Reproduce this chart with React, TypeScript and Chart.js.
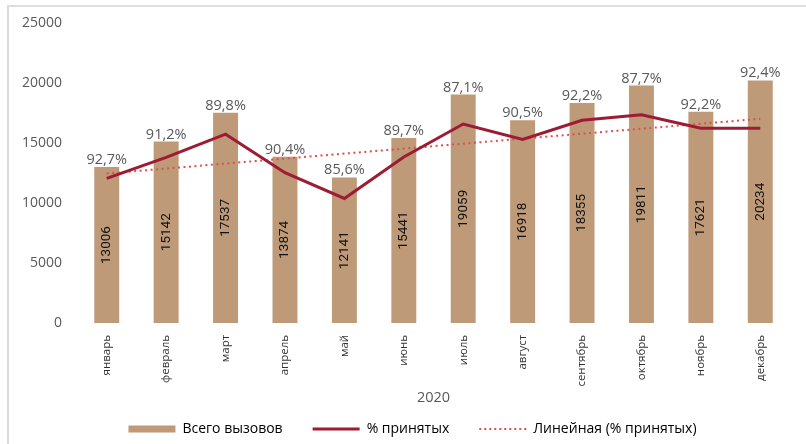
import { useEffect, useRef } from "react";
import { Chart, registerables } from "chart.js";

Chart.register(...registerables);

const months = ["январь", "февраль", "март", "апрель", "май", "июнь", "июль", "август", "сентябрь", "октябрь", "ноябрь", "декабрь"];
const totalCalls = [13006, 15142, 17537, 13874, 12141, 15441, 19059, 16918, 18355, 19811, 17621, 20234];
const acceptedPct = [92.7, 91.2, 89.8, 90.4, 85.6, 89.7, 87.1, 90.5, 92.2, 87.7, 92.2, 92.4];
const acceptedLine = [12060, 13810, 15750, 12540, 10390, 13850, 16600, 15310, 16920, 17370, 16250, 16250];
const trendLine: (number | null)[] = [12470, null, null, null, null, null, null, null, null, null, null, 17040];
const yMin = 0;
const yMax = 25000;
const yStep = 5000;
const xTitle = "2020";
const legendTexts = ["Всего вызовов", "% принятых", "Линейная (% принятых)"];

const BAR = "#BE9A78";
const LINE = "#9D1C33";
const TREND = "#D9504E";
const FONT = "'Open Sans', sans-serif";

const labelPlugin = {
  id: "valueLabels",
  afterDatasetsDraw(chart: any) {
    const ctx = chart.ctx as CanvasRenderingContext2D;
    const meta = chart.getDatasetMeta(0);
    meta.data.forEach((bar: any, i: number) => {
      const { x, y, base } = bar.getProps(["x", "y", "base"], true);
      ctx.save();
      ctx.translate(x, (y + base) / 2);
      ctx.rotate(-Math.PI / 2);
      ctx.font = "13.5px Roboto, sans-serif";
      ctx.fillStyle = "#111111";
      ctx.textAlign = "center";
      ctx.textBaseline = "middle";
      ctx.fillText(String(totalCalls[i]), 0, 0);
      ctx.restore();

      ctx.save();
      ctx.font = "14.5px " + FONT;
      ctx.fillStyle = "#595959";
      ctx.textAlign = "center";
      ctx.textBaseline = "alphabetic";
      ctx.fillText(acceptedPct[i].toFixed(1).replace(".", ",") + "%", x, y - 3);
      ctx.restore();
    });
  },
};

const legendShift = {
  id: "legendShift",
  afterLayout(chart: any) {
    const lg = chart.legend;
    if (!lg) return;
    lg.left += 14;
    lg.right += 14;
    lg.top -= 15;
    lg.bottom -= 15;
  },
};

export default function App() {
  const ref = useRef<HTMLCanvasElement | null>(null);

  useEffect(() => {
    if (!ref.current) return;
    const chart = new Chart(ref.current, {
      type: "bar",
      data: {
        labels: months,
        datasets: [
          {
            type: "bar",
            label: legendTexts[0],
            data: totalCalls,
            backgroundColor: BAR,
            barPercentage: 0.42,
            categoryPercentage: 1,
            order: 3,
          },
          {
            type: "line",
            label: legendTexts[1],
            data: acceptedLine,
            borderColor: LINE,
            backgroundColor: LINE,
            borderWidth: 3,
            pointRadius: 0,
            tension: 0,
            order: 1,
          },
          {
            type: "line",
            label: legendTexts[2],
            data: trendLine,
            borderColor: TREND,
            backgroundColor: TREND,
            borderWidth: 2,
            borderDash: [2, 3.5],
            pointRadius: 0,
            spanGaps: true,
            order: 2,
          },
        ] as any,
      },
      options: {
        animation: false,
        responsive: false,
        devicePixelRatio: 1,
        layout: { padding: { left: 7, right: 16, top: 23, bottom: 0 } },
        plugins: {
          tooltip: { enabled: false },
          legend: {
            position: "bottom",
            labels: {
              usePointStyle: true,
              pointStyleWidth: 47,
              boxHeight: 7,
              padding: 30,
              color: "#595959",
              font: { family: FONT, size: 14 },
              generateLabels: () => [
                { text: legendTexts[0], fillStyle: BAR, strokeStyle: BAR, lineWidth: 0, pointStyle: "rect", hidden: false, datasetIndex: 0 },
                { text: legendTexts[1], fillStyle: LINE, strokeStyle: LINE, lineWidth: 3, pointStyle: "line", hidden: false, datasetIndex: 1 },
                { text: legendTexts[2], fillStyle: TREND, strokeStyle: TREND, lineWidth: 2, lineDash: [2, 3], pointStyle: "line", hidden: false, datasetIndex: 2 },
              ] as any,
            },
          },
        },
        scales: {
          x: {
            grid: { display: false, drawTicks: false },
            border: { display: false },
            ticks: {
              autoSkip: false,
              maxRotation: 90,
              minRotation: 90,
              padding: 12,
              color: "#333333",
              font: { family: FONT, size: 11.5 },
            },
            title: {
              display: true,
              text: xTitle,
              color: "#595959",
              font: { family: FONT, size: 14.5 },
              padding: { top: -9, bottom: 0 },
            },
          },
          y: {
            min: yMin,
            max: yMax,
            grid: { display: false, drawTicks: false },
            border: { display: false },
            ticks: {
              stepSize: yStep,
              padding: 15,
              color: "#595959",
              font: { family: FONT, size: 14 },
              callback: (v: any) => String(v),
            },
          },
        },
      },
      plugins: [labelPlugin, legendShift],
    });
    return () => chart.destroy();
  }, []);

  return (
    <div style={{ position: "absolute", left: 0, top: 0, width: 806, height: 444, overflow: "hidden", background: "#ffffff" }}>
      <div
        style={{
          position: "absolute",
          left: 7,
          top: 5,
          right: 0,
          bottom: 0,
          borderLeft: "2px solid #d9d9d9",
          borderTop: "2px solid #dedede",
        }}
      />
      <canvas ref={ref} width={806} height={461} style={{ position: "absolute", left: 0, top: 0, width: 806, height: 461 }} />
    </div>
  );
}
